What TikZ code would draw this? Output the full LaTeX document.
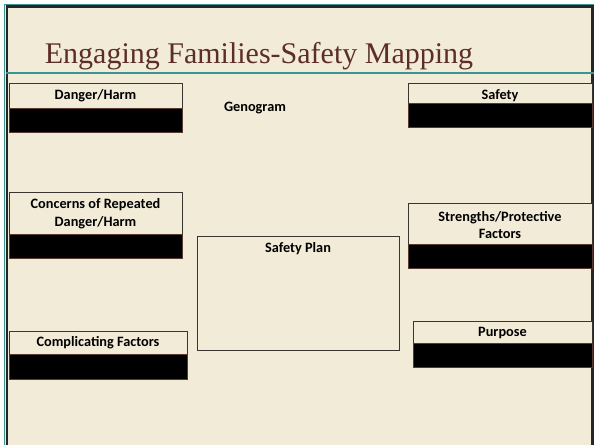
\documentclass[tikz,border=0pt]{standalone}
\usepackage{fontspec}
\setmainfont{Liberation Serif}
\newfontfamily\boxfont{Carlito}
\definecolor{bg}{HTML}{F2EBD8}
\definecolor{teal}{HTML}{3A9690}
\definecolor{titlec}{HTML}{5C2E24}
\definecolor{blkedge}{HTML}{5A3A30}
\definecolor{edge}{HTML}{3A3530}
\begin{document}
\begin{tikzpicture}[x=1pt,y=-1pt,
  hdr/.style={draw=edge, line width=0.8pt, fill=bg, anchor=north west, inner sep=1pt, outer sep=0pt},
  blk/.style={draw=blkedge, line width=0.8pt, fill=black, anchor=north west, inner sep=0pt, outer sep=0pt},
  lbl/.style={font=\boxfont\bfseries\fontsize{14.3}{18.5}\selectfont, align=center, inner sep=0pt}]
\useasboundingbox (0,0) rectangle (594,445);
\fill[white] (0,0) rectangle (594,445);
\fill[bg] (5,5) rectangle (594,445);
% frame
\draw[teal, line width=1.4pt] (4.7,445) -- (4.7,4.7) -- (594,4.7);
\draw[black!85, line width=2.4pt] (6.8,445) -- (6.8,6.6) -- (594,6.6);
\draw[black!85, line width=2.5pt] (592.5,6) -- (592.5,445);
% separator
\draw[teal, line width=2.4pt] (6,73) -- (594,73);
% title
\node[text=titlec, font=\fontsize{30}{35}\selectfont, anchor=base, inner sep=0pt] (title) at (259,63) {Engaging Families-Safety Mapping};
% Danger/Harm
\node[hdr, minimum width=173pt, minimum height=25pt] (dh) at (9,83) {};
\node[lbl] (dht) at (95.5,96) {Danger/Harm};
\node[blk, minimum width=173pt, minimum height=24pt] (dhb) at (dh.south west) {};
% Genogram
\node[lbl] (geno) at (255,108) {Genogram};
% Safety
\node[hdr, minimum width=184pt, minimum height=20pt] (sf) at (408,83) {};
\node[lbl] (sft) at (500,96) {Safety};
\node[blk, minimum width=184pt, minimum height=24pt] (sfb) at (sf.south west) {};
% Concerns
\node[hdr, minimum width=173pt, minimum height=42pt] (cr) at (9,192) {};
\node[lbl] (crt) at (95.5,213.5) {Concerns of Repeated\\Danger/Harm};
\node[blk, minimum width=173pt, minimum height=24pt] (crb) at (cr.south west) {};
% Safety plan
\node[draw=edge, line width=0.8pt, fill=bg, anchor=north west, minimum width=202pt, minimum height=114pt, inner sep=0pt, outer sep=0pt] (sp) at (197,236) {};
\node[lbl] (spt) at (298,249) {Safety Plan};
% Strengths
\node[hdr, minimum width=184pt, minimum height=41pt] (st) at (408,203) {};
\node[lbl, font=\boxfont\bfseries\fontsize{14.3}{16.5}\selectfont] (stt) at (500,225) {Strengths/Protective\\Factors};
\node[blk, minimum width=184pt, minimum height=24pt] (stb) at (st.south west) {};
% Purpose
\node[hdr, minimum width=179pt, minimum height=22pt] (pp) at (413,321) {};
\node[lbl] (ppt) at (502.5,333) {Purpose};
\node[blk, minimum width=179pt, minimum height=24pt] (ppb) at (pp.south west) {};
% Complicating
\node[hdr, minimum width=178pt, minimum height=23pt] (cf) at (9,331) {};
\node[lbl] (cft) at (98,343) {Complicating Factors};
\node[blk, minimum width=178pt, minimum height=25pt] (cfb) at (cf.south west) {};
\end{tikzpicture}
\end{document}
